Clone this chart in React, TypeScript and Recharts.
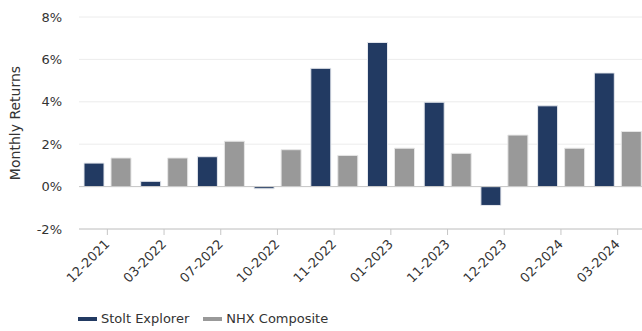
import React from 'react';
import { BarChart, Bar, XAxis, YAxis, CartesianGrid, ReferenceLine } from 'recharts';

const months = ['12-2021', '03-2022', '07-2022', '10-2022', '11-2022', '01-2023', '11-2023', '12-2023', '02-2024', '03-2024'];
const stoltExplorer = [1.11, 0.25, 1.41, -0.1, 5.58, 6.8, 3.98, -0.89, 3.81, 5.36];
const nhxComposite = [1.35, 1.35, 2.14, 1.74, 1.47, 1.81, 1.57, 2.43, 1.81, 2.6];
const yTicks = [-2, 0, 2, 4, 6, 8];

const NAVY = '#223a62';
const GREY = '#999999';
const FONT = '"DejaVu Sans", Verdana, sans-serif';

const data = months.map((month, i) => ({
  month,
  stolt: stoltExplorer[i],
  nhx: nhxComposite[i],
}));

// rotated month labels, right end sitting just below the tick mark
const MonthTick = (props: any) => {
  const { x, y, payload } = props;
  return (
    <g transform={`translate(${x + 3},${y + 8})`}>
      <text
        x={0}
        y={0}
        textAnchor="end"
        transform="rotate(-45)"
        fill="#333"
        fontSize={13}
        fontFamily={FONT}
      >
        {payload.value}
      </text>
    </g>
  );
};

const AxisTitle = (props: any) => {
  const { viewBox } = props;
  const cy = viewBox.y + viewBox.height / 2;
  return (
    <text
      x={20}
      y={cy}
      transform={`rotate(-90, 20, ${cy})`}
      textAnchor="middle"
      fill="#333"
      fontSize={14}
      fontFamily={FONT}
    >
      Monthly Returns
    </text>
  );
};

const legendItems = [
  { label: 'Stolt Explorer', color: NAVY },
  { label: 'NHX Composite', color: GREY },
];

const App: React.FC = () => {
  return (
    <div style={{ position: 'absolute', left: 0, top: 0, width: 642, height: 331, overflow: 'hidden', background: '#fff' }}>
      <BarChart
        width={646}
        height={331}
        data={data}
        margin={{ top: 17, right: 0, left: 0, bottom: 0 }}
        barSize={20}
        barGap={7}
      >
        <CartesianGrid horizontal vertical={false} stroke="#ececec" />
        <XAxis
          dataKey="month"
          height={102}
          interval={0}
          axisLine={{ stroke: '#c6c6c6' }}
          tickLine={{ stroke: '#c6c6c6' }}
          tickSize={6}
          tick={<MonthTick />}
        />
        <YAxis
          width={79}
          domain={[-2, 8]}
          ticks={yTicks}
          axisLine={false}
          tickLine={false}
          tickSize={0}
          tickMargin={17}
          tickFormatter={(v: number) => `${v}%`}
          tick={{ fill: '#333', fontSize: 13, fontFamily: FONT }}
          label={<AxisTitle />}
        />
        <ReferenceLine y={0} stroke="#c6c6c6" />
        <Bar dataKey="stolt" name="Stolt Explorer" fill={NAVY} stroke="#e6e9ee" strokeWidth={1} isAnimationActive={false} />
        <Bar dataKey="nhx" name="NHX Composite" fill={GREY} stroke="#e6e6e6" strokeWidth={1} isAnimationActive={false} />
      </BarChart>
      <div
        style={{
          position: 'absolute',
          left: 78,
          top: 311,
          display: 'flex',
          alignItems: 'center',
          fontFamily: FONT,
          fontSize: 13,
          color: '#333',
        }}
      >
        {legendItems.map((item) => (
          <div key={item.label} style={{ display: 'flex', alignItems: 'center', marginRight: 14 }}>
            <span style={{ display: 'inline-block', width: 19, height: 4, background: item.color, marginRight: 4 }} />
            <span>{item.label}</span>
          </div>
        ))}
      </div>
    </div>
  );
};

export default App;
